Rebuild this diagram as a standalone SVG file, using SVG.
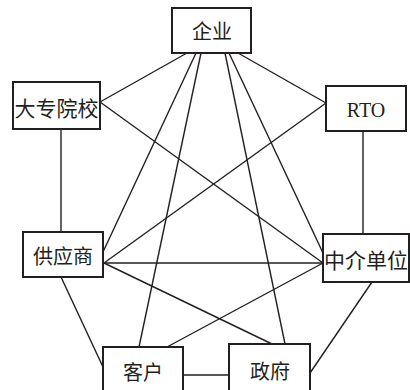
<svg xmlns="http://www.w3.org/2000/svg" width="410" height="390" viewBox="0 0 410 390">
<style>
.box{fill:#fff;stroke:#231f20;stroke-width:2}
.ln{stroke:#231f20;stroke-width:1.4;fill:none}
.t{font-family:"Liberation Serif","Noto Sans CJK SC",serif;font-size:20px;fill:#231f20;text-anchor:middle}
</style>
<rect width="410" height="390" fill="#fff"/>
<g id="connectors">
<line class="ln" x1="187" y1="53" x2="100" y2="102"/>
<line class="ln" x1="238" y1="53" x2="326" y2="103"/>
<line class="ln" x1="196" y1="53" x2="103" y2="252"/>
<line class="ln" x1="201" y1="53" x2="139" y2="347"/>
<line class="ln" x1="225" y1="53" x2="285" y2="344"/>
<line class="ln" x1="229" y1="53" x2="323" y2="253"/>
<line class="ln" x1="100" y1="102" x2="323" y2="263"/>
<line class="ln" x1="326" y1="103" x2="104" y2="263"/>
<line class="ln" x1="104" y1="263" x2="323" y2="263"/>
<line class="ln" x1="104" y1="263" x2="272" y2="344"/>
<line class="ln" x1="323" y1="263" x2="167" y2="347"/>
<line class="ln" x1="61" y1="277" x2="103" y2="367"/>
<line class="ln" x1="372" y1="282" x2="310" y2="373"/>
<line class="ln" x1="183" y1="375" x2="229" y2="375"/>
<line class="ln" x1="61" y1="129" x2="61" y2="232"/>
<line class="ln" x1="363" y1="131" x2="363" y2="234"/>
</g>
<g id="qiye"><rect class="box" x="172" y="8" width="79" height="45"/><text class="t" x="212" y="39">企业</text></g>
<g id="dazhuan"><rect class="box" x="13" y="82" width="87" height="47"/><text class="t" x="56.5" y="116" style="font-size:21px">大专院校</text></g>
<g id="rto"><rect class="box" x="326" y="86" width="80" height="45"/><text class="t" x="366" y="117">RTO</text></g>
<g id="gongying"><rect class="box" x="23" y="232" width="80" height="45"/><text class="t" x="63" y="264">供应商</text></g>
<g id="zhongjie"><rect class="box" x="323" y="234" width="86" height="48"/><text class="t" x="366" y="268" style="font-size:21px">中介单位</text></g>
<g id="kehu"><rect class="box" x="103" y="347" width="80" height="50"/><text class="t" x="143" y="380">客户</text></g>
<g id="zhengfu"><rect class="box" x="229" y="344" width="81" height="53"/><text class="t" x="270" y="379">政府</text></g>
</svg>
